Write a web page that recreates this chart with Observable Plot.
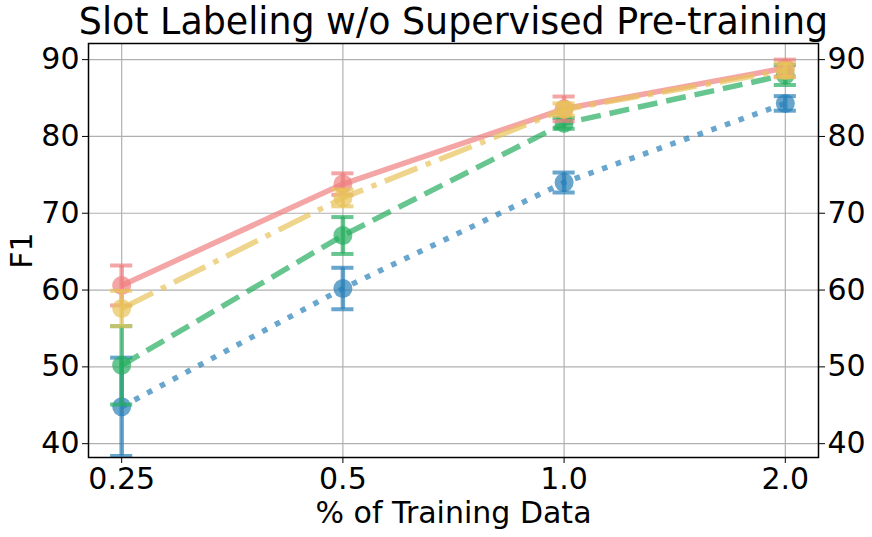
<!DOCTYPE html>
<html>
<head>
<meta charset="utf-8">
<script src="https://cdn.jsdelivr.net/npm/d3@7"></script>
<script src="https://cdn.jsdelivr.net/npm/@observablehq/plot@0.6"></script>
<style>
  html, body { margin: 0; padding: 0; background: white; }
  svg { display: block; }
</style>
</head>
<body>
<div id="chart"></div>
<script>
const titleText = "Slot Labeling w/o Supervised Pre-training";
const xLabels = ["0.25", "0.5", "1.0", "2.0"];
const yTicks = [40, 50, 60, 70, 80, 90];

// series (in drawing order)
const blueMean = [44.8, 60.2, 74.0, 84.3];
const blueErr = [6.4, 2.7, 1.3, 0.95];
const greenMean = [50.2, 67.1, 81.7, 88.0];
const greenErr = [5.1, 2.4, 0.7, 1.3];
const redMean = [60.6, 73.8, 83.6, 88.9];
const redErr = [2.6, 1.4, 1.6, 1.1];
const yellowMean = [57.6, 72.0, 83.5, 88.6];
const yellowErr = [2.3, 1.1, 0.8, 0.9];

const seriesDefs = [
  {mean: blueMean, err: blueErr, color: "#2980b9", dash: "5.5,9"},
  {mean: greenMean, err: greenErr, color: "#27ae60", dash: "20,9"},
  {mean: redMean, err: redErr, color: "#f08080", dash: null},
  {mean: yellowMean, err: yellowErr, color: "#e8c35a", dash: "35,9,5.5,9"}
];

const capHalf = 0.05;
const alpha = 0.7;
const marks = [
  Plot.gridX(d3.range(xLabels.length), {stroke: "#b0b0b0", strokeOpacity: 1, strokeWidth: 1.2}),
  Plot.gridY(yTicks, {stroke: "#b0b0b0", strokeOpacity: 1, strokeWidth: 1.2})
];

for (const s of seriesDefs) {
  const rows = s.mean.map((m, i) => ({i, y: m, lo: m - s.err[i], hi: m + s.err[i]}));
  marks.push(
    Plot.line(rows, {x: "i", y: "y", stroke: s.color, strokeOpacity: alpha, strokeWidth: 5.5,
      strokeDasharray: s.dash ?? undefined, strokeLinecap: "butt", strokeLinejoin: "round"}),
    Plot.ruleX(rows, {x: "i", y1: "lo", y2: "hi", stroke: s.color, strokeOpacity: alpha, strokeWidth: 4.5}),
    Plot.ruleY(rows, {x1: d => d.i - capHalf, x2: d => d.i + capHalf, y: "lo", stroke: s.color, strokeOpacity: alpha, strokeWidth: 4}),
    Plot.ruleY(rows, {x1: d => d.i - capHalf, x2: d => d.i + capHalf, y: "hi", stroke: s.color, strokeOpacity: alpha, strokeWidth: 4}),
    Plot.dot(rows, {x: "i", y: "y", r: 9.5, fill: s.color, fillOpacity: alpha, stroke: "none"})
  );
}

marks.push(
  Plot.frame({stroke: "black", strokeWidth: 1.5}),
  Plot.axisX(d3.range(xLabels.length), {tickFormat: i => xLabels[i], fontSize: 30, tickSize: 6, tickPadding: 4,
    label: "% of Training Data", labelAnchor: "center", labelArrow: "none", labelOffset: 65}),
  Plot.axisY(yTicks, {anchor: "left", fontSize: 30, tickSize: 6, tickPadding: 3,
    label: "F1", labelAnchor: "center", labelArrow: "none", labelOffset: 78}),
  Plot.axisY(yTicks, {anchor: "right", fontSize: 30, tickSize: 6, tickPadding: 3, label: null}),
  Plot.text([titleText], {frameAnchor: "top", dy: -10, fontSize: 36.4, lineAnchor: "bottom", fill: "black"})
);

const chart = Plot.plot({
  width: 872,
  height: 537,
  marginLeft: 88,
  marginRight: 54,
  marginTop: 43,
  marginBottom: 80,
  style: {fontFamily: "DejaVu Sans", fontSize: "30px", color: "black", background: "white"},
  x: {type: "linear", domain: [-0.15, xLabels.length - 1 + 0.15]},
  y: {domain: [38.2, 92.1]},
  marks
});
document.getElementById("chart").appendChild(chart);
</script>
</body>
</html>
